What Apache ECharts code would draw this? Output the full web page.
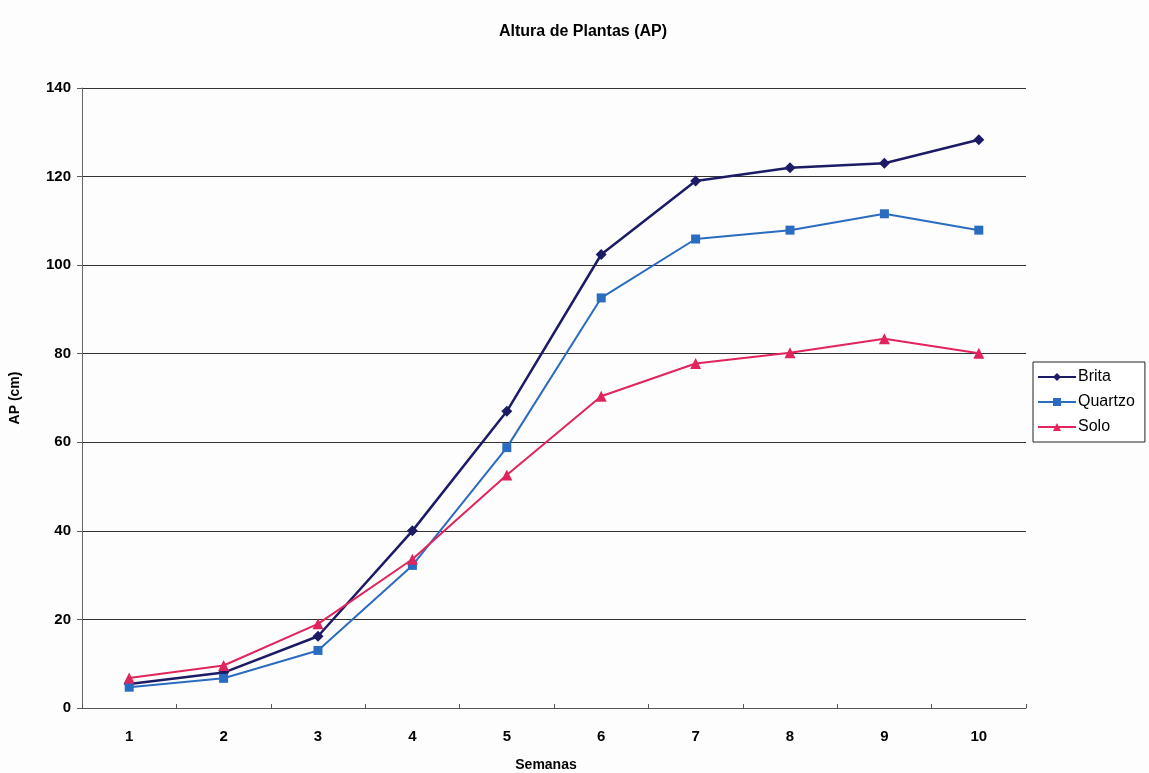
<!DOCTYPE html>
<html>
<head>
<meta charset="utf-8">
<script src="https://cdn.jsdelivr.net/npm/echarts@6/dist/echarts.min.js"></script>
<style>
  html, body { margin: 0; padding: 0; background: #fdfdfd; }
  #chart { width: 1149px; height: 773px; }
</style>
</head>
<body>
<div id="chart"></div>
<script>
// Semanas de avaliação
const semanas = ['1', '2', '3', '4', '5', '6', '7', '8', '9', '10'];

// Altura de plantas (cm) por substrato
const brita   = [5.4, 8.0, 16.2, 40.0, 67.0, 102.4, 119.0, 122.0, 123.0, 128.3];
const quartzo = [4.7, 6.7, 13.0, 32.2, 58.8, 92.6, 105.9, 107.9, 111.6, 107.9];
const solo    = [6.8, 9.6, 19.0, 33.6, 52.6, 70.4, 77.8, 80.2, 83.4, 80.1];

const seriesNames = ['Brita', 'Quartzo', 'Solo'];
const seriesData = [brita, quartzo, solo];
const colors = ['#1c1c66', '#2a6cc0', '#e0245c'];
const symbols = ['diamond', 'rect', 'triangle'];
const symbolSizes = [11, 9, 11];
const lineWidths = [2.5, 2, 2];

const font = 'Arial, "Liberation Sans", sans-serif';

const chart = echarts.init(document.getElementById('chart'));
chart.setOption({
  backgroundColor: '#fdfdfd',
  animation: false,
  title: {
    text: 'Altura de Plantas (AP)',
    left: 578,
    textAlign: 'center',
    top: 19,
    textStyle: { fontFamily: font, fontSize: 16, fontWeight: 'bold', color: '#000' }
  },
  legend: {
    orient: 'vertical',
    left: 1033,
    top: 362,
    itemWidth: 38,
    itemHeight: 10,
    itemGap: 9,
    padding: [7, 10, 7, 4],
    borderColor: '#222',
    borderWidth: 1,
    backgroundColor: '#fff',
    textStyle: { fontFamily: font, fontSize: 16, color: '#000', padding: [0, 0, 0, -3] },
    data: seriesNames
  },
  grid: { left: 82, right: 123, top: 88, bottom: 65, outerBoundsMode: 'none' },
  xAxis: {
    type: 'category',
    data: semanas,
    boundaryGap: true,
    name: 'Semanas',
    nameLocation: 'middle',
    nameGap: 50,
    nameTextStyle: { fontFamily: font, fontSize: 14, fontWeight: 'bold', color: '#000', padding: [0, 16, 0, 0] },
    axisLine: { lineStyle: { color: '#555', width: 1 } },
    axisTick: { show: true, inside: true, length: 4, lineStyle: { color: '#555' } },
    axisLabel: { fontFamily: font, fontSize: 15, fontWeight: 'bold', color: '#000', margin: 21 }
  },
  yAxis: {
    type: 'value',
    min: 0,
    max: 140,
    interval: 20,
    name: 'AP (cm)',
    nameLocation: 'middle',
    nameGap: 60,
    nameRotate: 90,
    nameTextStyle: { fontFamily: font, fontSize: 14, fontWeight: 'bold', color: '#000' },
    axisLine: { show: true, lineStyle: { color: '#666', width: 1 } },
    axisTick: { show: true, inside: false, length: 5, lineStyle: { color: '#555' } },
    axisLabel: { fontFamily: font, fontSize: 15, fontWeight: 'bold', color: '#000', margin: 11 },
    splitLine: { show: true, lineStyle: { color: '#333', width: 1 } }
  },
  series: seriesNames.map((name, i) => ({
    name: name,
    type: 'line',
    data: seriesData[i],
    symbol: symbols[i],
    symbolSize: symbolSizes[i],
    showAllSymbol: true,
    lineStyle: { color: colors[i], width: lineWidths[i] },
    itemStyle: { color: colors[i] },
    emphasis: { disabled: true }
  }))
});
</script>
</body>
</html>
